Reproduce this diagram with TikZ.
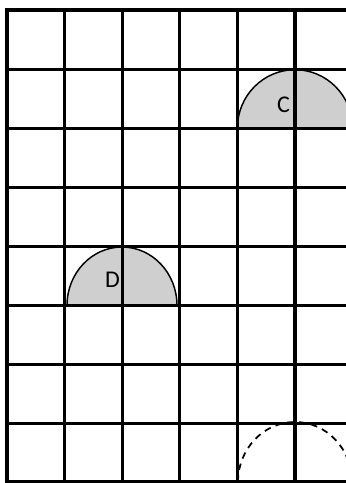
\documentclass[tikz,border=0pt]{standalone}
\usepackage{fontspec}
\setmainfont{Carlito}
\usepackage{tikz}
\usetikzlibrary{calc}

\definecolor{discgray}{RGB}{208,207,207}

\begin{document}
\begin{tikzpicture}[x=0.75pt, y=-0.75pt,
        gridline/.style={line width=2.3pt, line cap=rect},
        halfdisc/.style={fill=discgray, draw=black, line width=1.1pt},
        ghostdisc/.style={draw=black, line width=1.3pt, dash pattern=on 5pt off 4pt},
        letter/.style={font=\fontsize{18}{20}\selectfont, inner sep=0pt}]

        \useasboundingbox (0,0) rectangle (346,483);
        \clip (0,0) rectangle (346,483);

        %% Half discs
        \fill [discgray] (237.4,128.2) arc [start angle=180, end angle=360, x radius=57.6, y radius=58.5] -- cycle;
        \draw [halfdisc, fill=none] (237.4,128.2) arc [start angle=180, end angle=360, x radius=57.6, y radius=58.5];
        \fill [discgray] (67,305.5) arc [start angle=180, end angle=360, x radius=55, y radius=58.5] -- cycle;
        \draw [halfdisc, fill=none] (67,305.5) arc [start angle=180, end angle=360, x radius=55, y radius=58.5];

        %% Dashed outline
        \draw [ghostdisc] (238,482) arc [start angle=180, end angle=360, x radius=57, y radius=60];

        %% Vertical lines
        \draw [gridline] (7,10) -- (7,481.5);
        \draw [gridline] (64.6,10) -- (64.6,481.5);
        \draw [gridline] (122.2,10) -- (122.2,481.5);
        \draw [gridline] (179.8,10) -- (179.8,481.5);
        \draw [gridline] (237.4,10) -- (237.4,481.5);
        \draw [gridline] (295,10) -- (295,481.5);

        %% Horizontal lines
        \draw [gridline] (7,10) -- (360,10);
        \draw [gridline] (7,69.1) -- (360,69.1);
        \draw [gridline] (7,128.2) -- (360,128.2);
        \draw [gridline] (7,187.3) -- (360,187.3);
        \draw [gridline] (7,246.4) -- (360,246.4);
        \draw [gridline] (7,305.5) -- (360,305.5);
        \draw [gridline] (7,364.6) -- (360,364.6);
        \draw [gridline] (7,423.7) -- (360,423.7);
        \draw [gridline] (7,481.5) -- (360,481.5);

        %% Labels
        \node (labelC) [letter] at (283.5,104.5) {C};
        \node (labelD) [letter] at (112.5,279.5) {D};

\end{tikzpicture}
\end{document}
